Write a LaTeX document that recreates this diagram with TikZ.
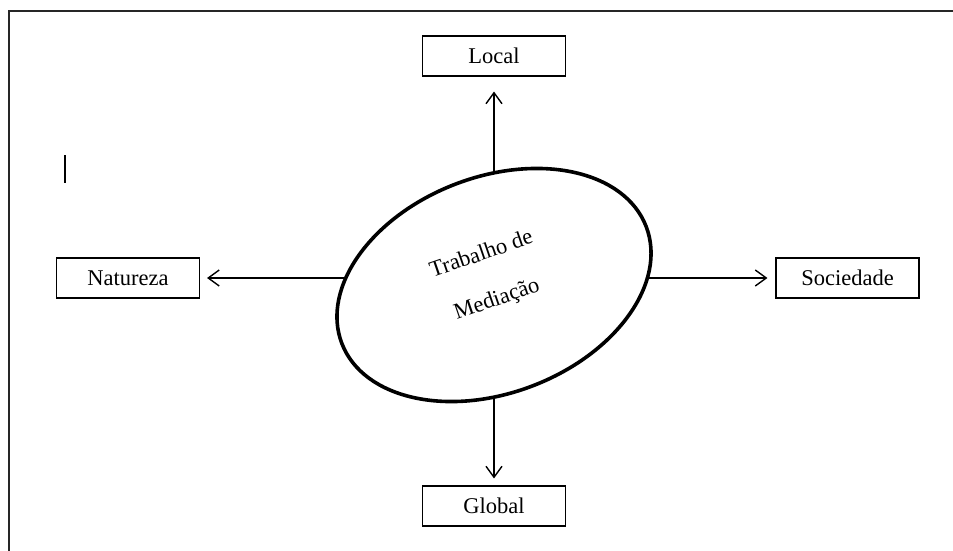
\documentclass[tikz,border=0pt]{standalone}
\usepackage{fontspec}
\setmainfont{Liberation Serif}
\usetikzlibrary{shapes.geometric,arrows.meta}
\tikzset{
  box/.style={draw, line width=1.1pt, minimum width=143pt, minimum height=40pt,
    inner sep=0pt, font=\fontsize{22.5}{27}\selectfont},
  link/.style={line width=1.4pt, -{Straight Barb[length=11pt,width=16pt,line width=1.4pt]}},
  hubring/.style={ellipse, draw, line width=3.6pt, fill=white, inner sep=0pt,
    minimum width=326pt, minimum height=216pt, rotate=21},
  caption/.style={font=\fontsize{22.5}{27}\selectfont, rotate=19, inner sep=0pt}
}
\begin{document}
\begin{tikzpicture}[x=1pt, y=-1pt]
  \useasboundingbox (0,0) rectangle (953,551);
  % open frame: top and left rules only
  \draw[line width=2.6pt, black!85] (953,11) -- (9,11) -- (9,551);
  % stray text cursor mark
  \draw[line width=1.6pt] (65,155) -- (65,183);

  % outer boxes
  \node[box] (local) at (494,56) {Local};
  \node[box] (global) at (494,506) {Global};
  \node[box] (natureza) at (128,278) {Natureza};
  \node[box] (sociedade) at (847.5,278) {Sociedade};

  % hub point the arrows leave from
  \coordinate (hub) at (494,278);
  \draw[link, shorten >=15pt] (hub) -- (local.south);
  \draw[link, shorten >=7pt] (hub) -- (global.north);
  \draw[link, shorten >=7pt] (hub) -- (natureza.east);
  \draw[link, shorten >=8pt] (hub) -- (sociedade.west);

  % central ellipse covering the inner parts of the arrows
  \node[hubring] (med) at (494,285) {};
  \node[caption] (t1) at (480.9,252.9) {Trabalho de};
  \node[caption] (t2) at (497.1,300.1) {Mediação};
\end{tikzpicture}
\end{document}
